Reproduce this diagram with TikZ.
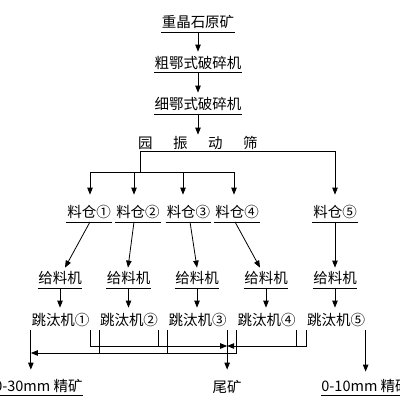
\documentclass[tikz,border=0pt]{standalone}
\usepackage{fontspec}
\newfontfamily\cjk{Noto Sans CJK SC}
\usetikzlibrary{arrows.meta,calc}
\begin{document}
\begin{tikzpicture}[x=1pt,y=-1pt,line width=0.8pt,
  lab/.style={font=\cjk\fontsize{14.5}{16}\selectfont, inner xsep=0pt, inner ysep=0pt,
              text height=13pt, text depth=4pt, anchor=base},
  binbox/.style={lab, minimum width=45pt},
  feedbox/.style={lab, minimum width=44pt},
  jigbox/.style={lab, minimum width=58.5pt},
  arr/.style={-{Triangle[length=7pt,width=5.5pt]}}]
\useasboundingbox (0,0) rectangle (400,400);

% main chain
\node[lab] (ore) at (198,27.5) {重晶石原矿};
\node[lab] (c1) at (198,68) {粗鄂式破碎机};
\node[lab] (c2) at (198,109.5) {细鄂式破碎机};
\node[lab] (scr) at (198,148) {园\hspace{20.5pt}振\hspace{20.5pt}动\hspace{20.5pt}筛};

% bins
\node[binbox] (bin1) at (89,217.5) {料仓①};
\node[binbox] (bin2) at (138,217.5) {料仓②};
\node[binbox] (bin3) at (188.5,217.5) {料仓③};
\node[binbox] (bin4) at (237,217.5) {料仓④};
\node[binbox] (bin5) at (335,217.5) {料仓⑤};

% feeders
\node[feedbox] (f1) at (60,283.5) {给料机};
\node[feedbox] (f2) at (128.5,283.5) {给料机};
\node[feedbox] (f3) at (197,283.5) {给料机};
\node[feedbox] (f4) at (266,283.5) {给料机};
\node[feedbox] (f5) at (335,283.5) {给料机};

% jigs
\node[jigbox] (j1) at (60.5,325.5) {跳汰机①};
\node[jigbox] (j2) at (129,325.5) {跳汰机②};
\node[jigbox] (j3) at (197.5,325.5) {跳汰机③};
\node[jigbox] (j4) at (266.5,325.5) {跳汰机④};
\node[jigbox] (j5) at (336,325.5) {跳汰机⑤};

% products
\node[lab,anchor=base east] (o30) at (83,391) {0-30mm 精矿};
\node[lab] (tail) at (227,392) {尾矿};
\node[lab,anchor=base west] (o10) at (321,391) {0-10mm 精矿};

% underlines
\foreach \n in {ore,c1,c2,bin1,bin2,bin3,bin4,bin5,f1,f2,f3,f4,f5,o30,o10}
  \draw (\n.south west) -- (\n.south east);

% crushing chain
\draw[arr,shorten >=3pt] (ore.south) -- (c1.north);
\draw[arr,shorten >=3.5pt] (c1.south) -- (c2.north);
\draw[arr] (c2.south) -- (scr.north);

% screen outputs
\coordinate (sL) at (140,151);
\coordinate (b1) at (90,172);
\coordinate (b2) at (134,172);
\coordinate (b3) at (183,172);
\coordinate (b4) at (234,172);
\draw[arr,shorten >=9.5pt] (sL) -| (bin5.north);
\draw (sL) -- (sL |- b1);
\draw (b1) -- (b4);
\foreach \i in {1,2,3,4}
  \draw[arr,shorten >=9.5pt] (b\i) -- (b\i |- bin\i.north);

% bins to feeders
\draw[arr] (b1 |- bin1.south) -- ($(f1.north)+(5,-2.5)$);
\draw[arr] (b2 |- bin2.south) -- ($(f2.north)+(-0.5,-2.5)$);
\draw[arr] ($(bin3.south)+(1.5,0)$) -- ($(f3.north)+(0,-2.5)$);
\draw[arr] ($(bin4.south)+(-2,0)$) -- ($(f4.north)+(-6,-2.5)$);
\draw[arr,shorten >=2.5pt] (bin5.south) -- (f5.north);

% feeders to jigs
\foreach \i in {1,2,3,4,5}
  \draw[arr,shorten >=4.5pt] (f\i.south) -- (f\i.south |- j\i.north);

% collecting lines
\coordinate (tj) at (j3.south east |- 0,346);
\coordinate (cj) at (j1.south west |- 0,353);
\draw[arr,shorten >=8pt] (j1.south west) -- (j1.south west |- o30.north);
\draw[arr] (j4.south west) |- (cj);
\draw (j2.south west) -- (j2.south west |- cj);
\draw (j3.south west) -- (j3.south west |- cj);
\draw[arr] (j1.south east) |- (tj);
\draw[arr] (j5.south west) |- (tj);
\draw (j2.south east) -- (j2.south east |- tj);
\draw (j4.south east) -- (j4.south east |- tj);
\draw[arr,shorten >=9pt] (j3.south east) -- (j3.south east |- tail.north);
\draw[arr,shorten >=6pt] (j5.south east) -- (j5.south east |- o10.north);
\end{tikzpicture}
\end{document}
